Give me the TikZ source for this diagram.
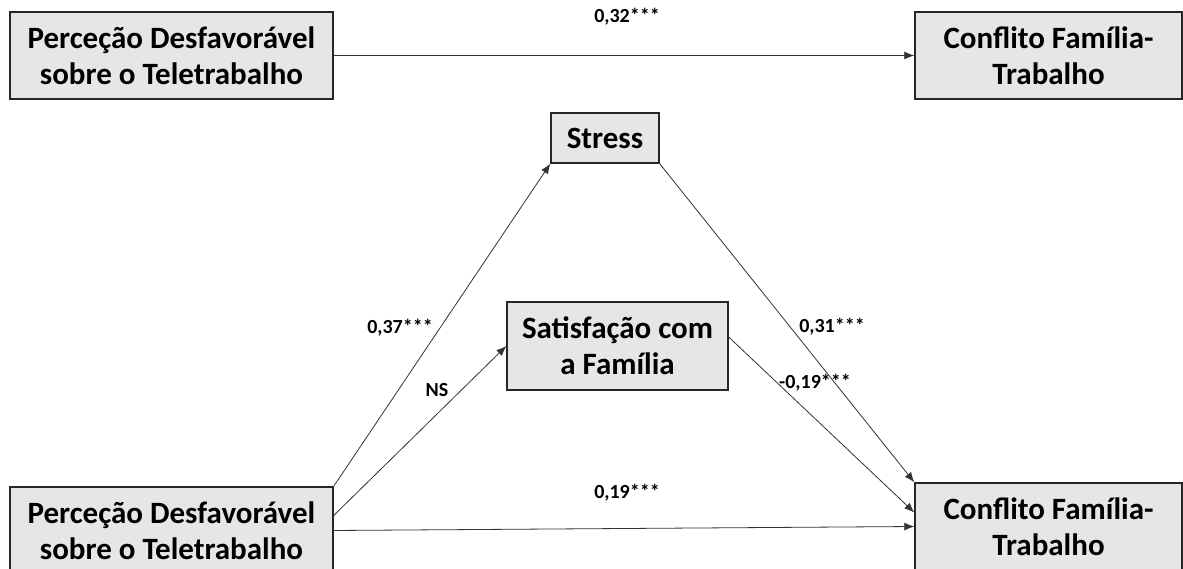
\documentclass[tikz,border=0pt]{standalone}
\usepackage{fontspec}
\setmainfont{Carlito}
\usepackage{tikz}
\usetikzlibrary{arrows.meta,positioning,calc}
\definecolor{boxgray}{HTML}{E6E6E6}
\definecolor{edgegray}{HTML}{262626}
\tikzset{
  pathbox/.style={draw=edgegray, line width=1.4pt, fill=boxgray, align=center,
    inner sep=0pt, font=\fontsize{31}{36}\selectfont\bfseries},
  patharrow/.style={-{Latex[length=10pt,width=8pt]}, line width=0.8pt, draw=black!80},
  coef/.style={font=\fontsize{20}{22}\selectfont\bfseries, inner sep=1pt}
}
\begin{document}
\begin{tikzpicture}[x=1pt,y=-1pt]
        \useasboundingbox (0,0) rectangle (1183,569);
        % total effect
        \node[pathbox, minimum width=323pt, minimum height=87pt] (pd1) at (171.5,55.5) {Perceção Desfavorável\\sobre o Teletrabalho};
        \node[pathbox, minimum width=267pt, minimum height=87pt] (cft1) at (1048.5,55.5) {Conflito Família-\\Trabalho};
        \draw[patharrow] (pd1) -- (cft1);
        \node[coef] (c1) at (627,17) {0,32***};
        % mediation model
        \node[pathbox, minimum width=108pt, minimum height=50pt] (stress) at (605,138) {Stress};
        \node[pathbox, minimum width=221pt, minimum height=88pt] (sat) at (617.5,346) {Satisfação com\\a Família};
        \node[pathbox, minimum width=323pt, minimum height=87pt] (pd2) at (171.5,530.5) {Perceção Desfavorável\\sobre o Teletrabalho};
        \node[pathbox, minimum width=267pt, minimum height=87pt] (cft2) at (1048.5,526.5) {Conflito Família-\\Trabalho};
        \draw[patharrow] (pd2.north east) -- (stress.south west);
        \draw[patharrow] ([yshift=15pt]pd2.east) -- (sat.west);
        \draw[patharrow] (pd2.east) -- (cft2.west);
        \draw[patharrow] (stress.south east) -- (cft2.north west);
        \draw[patharrow] ([yshift=9pt]sat.east) -- ([yshift=14pt]cft2.west);
        \node[coef] (c2) at (400,328) {0,37***};
        \node[coef] (c3) at (437,390) {NS};
        \node[coef] (c4) at (832,327) {0,31***};
        \node[coef] (c5) at (815,383) {-0,19***};
        \node[coef] (c6) at (627,493) {0,19***};
    \end{tikzpicture}
\end{document}
